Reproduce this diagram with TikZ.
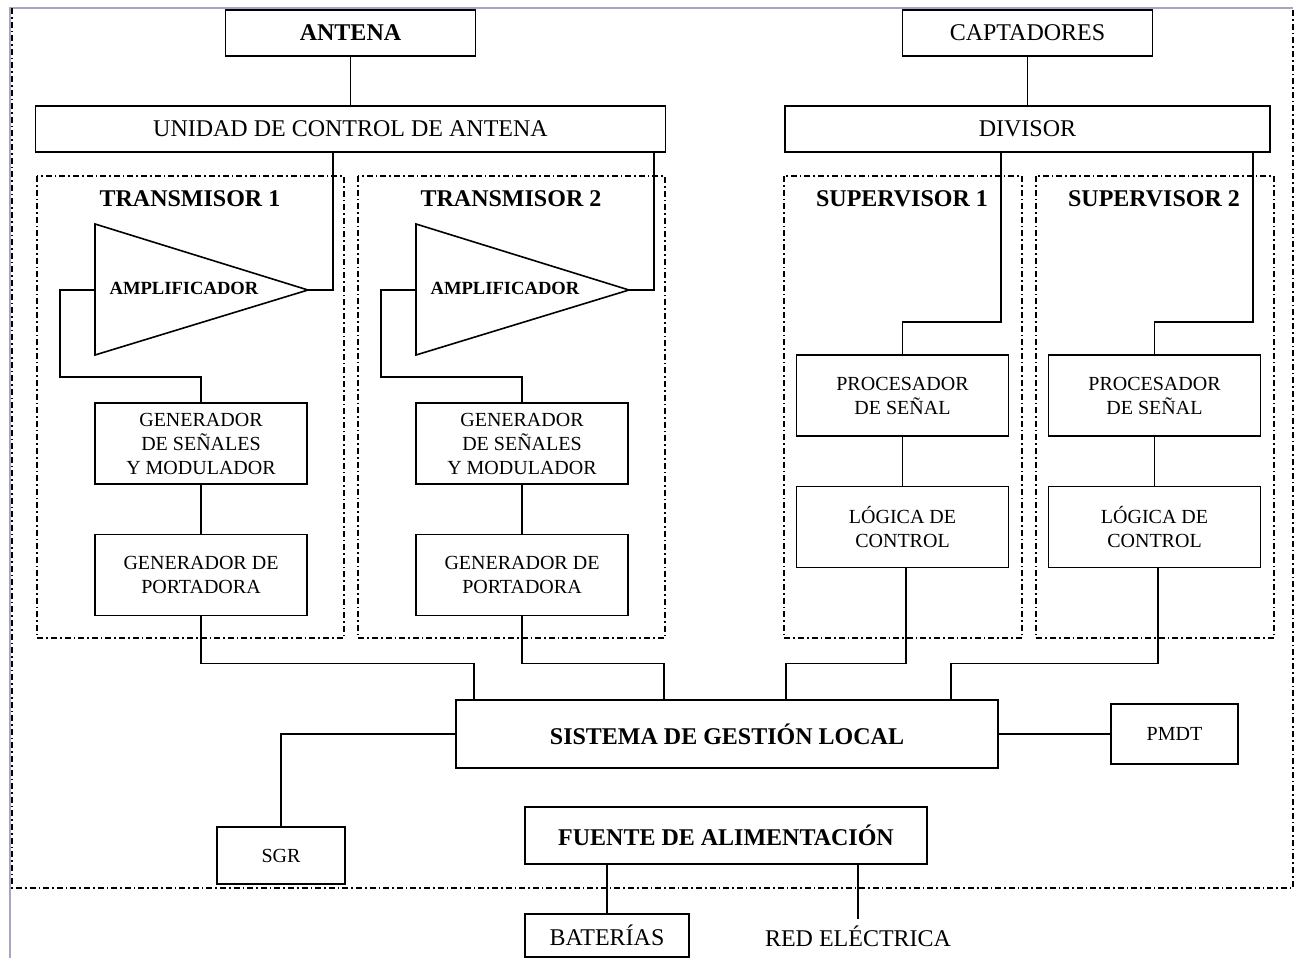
\documentclass[tikz,border=0pt]{standalone}
\usepackage{fontspec}
\setmainfont{Liberation Serif}
\usetikzlibrary{calc}

\begin{document}
\begin{tikzpicture}[
    x=0.5pt, y=-0.5pt,
    bx/.style={draw, line width=0.9pt, inner sep=0pt, align=center,
      font=\fontsize{10}{12}\selectfont, minimum width=106pt, minimum height=40.5pt},
    wide/.style={bx, font=\fontsize{12}{14}\selectfont, minimum height=23pt},
    ttl/.style={font=\bfseries\fontsize{12}{14}\selectfont},
    ln/.style={line width=0.8pt},
    grp/.style={line width=0.6pt, dash pattern=on 3pt off 1.5pt on 0.8pt off 1.5pt}
  ]
  \useasboundingbox (0,0) rectangle (1302,958);
  % window frame and outer limit
  \draw[line width=0.8pt, blue!30!black!35] (10,958) -- (10,8) -- (1293,8);
  \draw[grp] (12,8) -- (12,888) -- (1293,888) -- (1293,8);

  \node[wide, ttl, minimum width=125pt] (ant) at (350.5,33) {ANTENA};
  \node[wide, minimum width=125pt] (capt) at (1027.5,33) {CAPTADORES};
  \node[wide, minimum width=315pt] (uca) at (350.5,129) {UNIDAD DE CONTROL DE ANTENA};
  \node[wide, minimum width=242.5pt] (div) at (1027.5,129) {DIVISOR};
  \draw[ln] (ant) -- (uca);
  \draw[ln] (capt) -- (div);

  \node[bx, ttl, minimum width=271pt, minimum height=34pt] (sgl) at (727,734) {SISTEMA DE GESTIÓN LOCAL};

  % transmisores
  \foreach \x/\s [count=\i] in {0/19, 321/209} {
    \draw[grp] (37+\x,176) rectangle (344+\x,638);
    \node[ttl] (tx\i) at (190+\x,199) {TRANSMISOR \i};
    \draw[ln] (95+\x,224) -- (308+\x,290) coordinate (out\i) -- (95+\x,355) -- cycle;
    \coordinate (in\i) at (95+\x,290);
    \node[font=\bfseries\fontsize{9.3}{11}\selectfont] (amp\i) at (184+\x,288) {AMPLIFICADOR};
    \node[bx] (gen\i) at (201+\x,443.5) {GENERADOR\\DE SEÑALES\\Y MODULADOR};
    \node[bx] (port\i) at (201+\x,575) {GENERADOR DE\\PORTADORA};
    \draw[ln] ($(uca.south)+({\x-17.5},0)$) |- (out\i);
    \draw[ln] (in\i) -- ++(-35,0) |- ($(gen\i.north)+(0,-25)$) -- (gen\i.north);
    \draw[ln] (gen\i) -- (port\i);
    \draw[ln] (port\i.south) -- ++(0,47) -| ($(sgl.north west)+(\s,0)$);
  }

  % supervisores
  \foreach \x/\s [count=\i] in {0/331, 252/496} {
    \draw[grp] (784+\x,176) rectangle (1022+\x,638);
    \node[ttl] (sup\i) at (902+\x,199) {SUPERVISOR \i};
    \node[bx] (proc\i) at (902.5+\x,395.5) {PROCESADOR\\DE SEÑAL};
    \node[bx] (logic\i) at (902.5+\x,527) {LÓGICA DE\\CONTROL};
    \draw[ln] ($(div.south)+({\x-26.5},0)$) -- ++(0,169) -| (proc\i.north);
    \draw[ln] (proc\i) -- (logic\i);
    \draw[ln] ($(logic\i.south)+(3.5,0)$) -- ++(0,95) -| ($(sgl.north west)+(\s,0)$);
  }

  \node[bx, minimum width=63.5pt, minimum height=30pt] (pmdt) at (1174.5,734) {PMDT};
  \node[bx, minimum width=64pt, minimum height=28.5pt] (sgr) at (281,855.5) {SGR};
  \node[bx, ttl, minimum width=201pt, minimum height=28.5pt] (fuente) at (726,835.5) {FUENTE DE ALIMENTACIÓN};
  \node[wide, minimum width=82pt, minimum height=21.5pt] (bat) at (607,935.5) {BATERÍAS};
  \node[font=\fontsize{12}{14}\selectfont] (red) at (858,936) {RED ELÉCTRICA};
  \draw[ln] (sgl) -- (pmdt);
  \draw[ln] (sgl.west) -| (sgr.north);
  \draw[ln] (fuente.south -| bat.north) -- (bat.north);
  \draw[ln] (fuente.south -| red.north) -- (red.north);
\end{tikzpicture}
\end{document}
